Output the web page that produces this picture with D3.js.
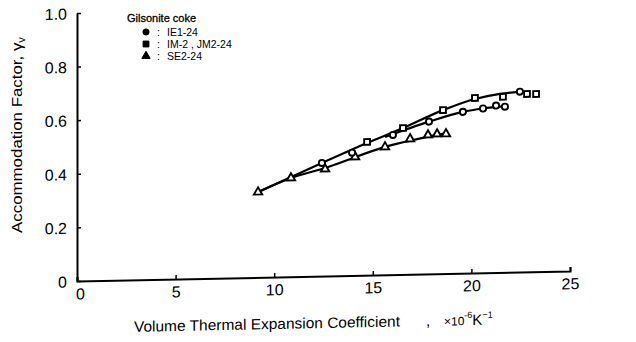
<!DOCTYPE html>
<html>
<head>
<meta charset="utf-8">
<script src="https://cdn.jsdelivr.net/npm/d3@7"></script>
<style>
  body { margin: 0; background: #fff; }
  text { font-family: "Liberation Sans", Arial, sans-serif; fill: #000; }
</style>
</head>
<body>
<svg id="chart" width="636" height="342"></svg>
<script>
// ticks
const xTicks = [0, 5, 10, 15, 20, 25];
const yTicks = [0, 0.2, 0.4, 0.6, 0.8, 1.0];

// legend
const seriesNames = ["IE1-24", "IM-2 , JM2-24", "SE2-24"];

const ieX = [12.42, 13.95, 16.02, 17.85, 19.57, 20.59, 21.25, 21.70, 22.46];
const ieY = [0.422, 0.458, 0.521, 0.568, 0.602, 0.613, 0.623, 0.618, 0.673];
const imX = [14.71, 16.53, 18.56, 20.18, 21.60, 22.82, 23.28];
const imY = [0.497, 0.546, 0.610, 0.653, 0.655, 0.664, 0.663];
const seX = [9.18, 10.85, 12.58, 14.10, 15.62, 16.89, 17.80, 18.26, 18.71];
const seY = [0.318, 0.368, 0.399, 0.442, 0.477, 0.505, 0.518, 0.521, 0.521];

// hand drawn fit curves
const fitUpperX = [9.18, 12.42, 14.71, 16.53, 18.56, 20.18, 21.45, 22.46];
const fitUpperY = [0.318, 0.422, 0.493, 0.546, 0.610, 0.649, 0.666, 0.673];
const fitIeX = [15.62, 17.85, 19.57, 20.59, 21.70];
const fitIeY = [0.514, 0.568, 0.602, 0.613, 0.620];
const fitSeX = [9.18, 10.85, 12.58, 15.62, 18.71];
const fitSeY = [0.318, 0.368, 0.403, 0.477, 0.524];

const svg = d3.select("#chart");
const x0 = 77, y0 = 281;
const x = d3.scaleLinear().domain([0, 25]).range([x0, 570]);
const y = d3.scaleLinear().domain([0, 1]).range([y0, 13]);

// scanned figure is slightly sheared
const g = svg.append("g")
  .attr("transform", `translate(${x0},0) skewY(-1.16) translate(${-x0},0)`);

const zip = (xs, ys) => xs.map((v, i) => [v, ys[i]]);

// axes
const yAxis = g.append("g")
  .attr("transform", `translate(${x0},0)`)
  .call(d3.axisLeft(y).tickValues(yTicks)
    .tickSizeInner(-4).tickSizeOuter(0).tickPadding(10)
    .tickFormat(d => d === 0 ? "0" : d.toFixed(1)));
yAxis.select(".domain").attr("stroke-width", 2);
yAxis.selectAll(".tick line").attr("stroke-width", 1.5);
yAxis.selectAll(".tick text").attr("font-size", 16).attr("font-family", "Liberation Sans")
  .attr("dy", "0.36em");

const xAxis = g.append("g")
  .attr("transform", `translate(0,${y0})`)
  .call(d3.axisBottom(x).tickValues(xTicks)
    .tickSizeInner(-4).tickSizeOuter(-4).tickPadding(7)
    .tickFormat(d3.format("d")));
xAxis.select(".domain").attr("stroke-width", 2);
xAxis.selectAll(".tick line").attr("stroke-width", 1.5);
xAxis.selectAll(".tick text").attr("font-size", 16).attr("font-family", "Liberation Sans");
xAxis.selectAll(".tick").filter(d => d === 0).select("text").attr("dx", 3);

// curves
const line = d3.line().x(d => x(d[0])).y(d => y(d[1])).curve(d3.curveMonotoneX);
[[fitUpperX, fitUpperY], [fitIeX, fitIeY], [fitSeX, fitSeY]].forEach(([xs, ys]) => {
  g.append("path").datum(zip(xs, ys))
    .attr("d", line).attr("fill", "none").attr("stroke", "#000").attr("stroke-width", 2.2);
});

// markers
const sym = {
  circle: d3.symbol().type(d3.symbolCircle).size(30),
  square: d3.symbol().type(d3.symbolSquare).size(34),
  triangle: d3.symbol().type(d3.symbolTriangle).size(30)
};
const drawPts = (xs, ys, s) => {
  g.append("g").selectAll("path").data(zip(xs, ys)).join("path")
    .attr("transform", d => `translate(${x(d[0])},${y(d[1])})`)
    .attr("d", sym[s]).attr("fill", "#fff").attr("stroke", "#000").attr("stroke-width", 1.9);
};
drawPts(seX, seY, "triangle");
drawPts(ieX, ieY, "circle");
drawPts(imX, imY, "square");

// axis titles
svg.append("text")
  .attr("transform", "translate(22,233) rotate(-90)")
  .attr("font-size", 15)
  .attr("textLength", 196).attr("lengthAdjust", "spacingAndGlyphs")
  .html('Accommodation Factor, γ<tspan font-size="10" dy="3">v</tspan>');

const xt = g.append("text").attr("y", 333).attr("font-size", 15);
xt.append("tspan").attr("x", 134).attr("textLength", 266).attr("lengthAdjust", "spacingAndGlyphs")
  .text("Volume Thermal Expansion Coefficient");
xt.append("tspan").attr("x", 426).text(",");
xt.append("tspan").attr("x", 444).attr("font-size", 12).text("×10");
xt.append("tspan").attr("font-size", 9).attr("dy", -7).text("-6");
xt.append("tspan").attr("font-size", 15).attr("dy", 7).text("K");
xt.append("tspan").attr("font-size", 9).attr("dy", -7).text("−1");

// legend
const lg = svg.append("g").attr("transform", "translate(127,0)");
lg.append("text").attr("x", 0).attr("y", 22).attr("font-size", 11)
  .attr("stroke", "#000").attr("stroke-width", 0.3)
  .text("Gilsonite coke");
const legSym = ["circle", "square", "triangle"];
seriesNames.forEach((name, i) => {
  const yy = 32 + i * 12;
  lg.append("path").attr("transform", `translate(19,${yy})`)
    .attr("d", sym[legSym[i]]).attr("fill", "#000").attr("stroke", "#000").attr("stroke-width", 1);
  lg.append("text").attr("x", 30).attr("y", yy + 4).attr("font-size", 10.5)
    .text(":");
  lg.append("text").attr("x", 40).attr("y", yy + 4).attr("font-size", 10.5)
    .text(name);
});
</script>
</body>
</html>
